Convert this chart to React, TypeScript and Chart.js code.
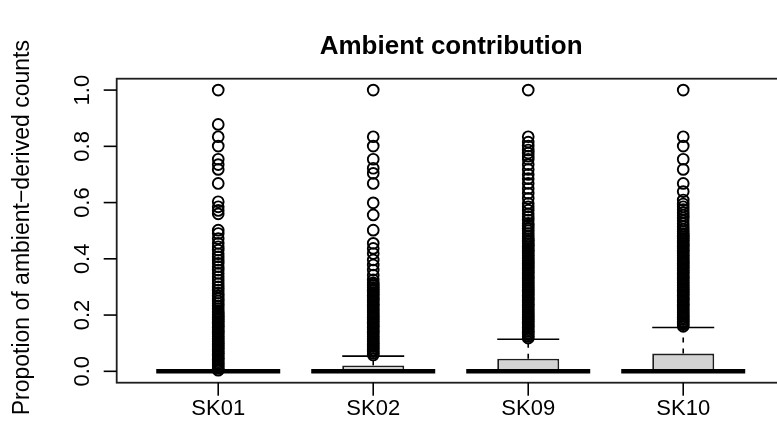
import React, { useEffect, useRef } from "react";
import { Chart, registerables } from "chart.js";

Chart.register(...registerables);

// ---------- data ----------
const categories = ["SK01", "SK02", "SK09", "SK10"];
const lowerWhisker = [0, 0, 0, 0];
const q1 = [0, 0, 0, 0];
const medians = [0, 0, 0, 0];
const q3 = [0, 0.021, 0.045, 0.063];
const upperWhisker = [0, 0.054, 0.114, 0.156];

const outliersSK01 = [
  1.0, 0.878, 0.834, 0.801, 0.754, 0.735, 0.718, 0.668, 0.603, 0.585, 0.572, 0.56, 0.502,
  0.49, 0.472, 0.455, 0.443, 0.431, 0.418, 0.407, 0.395, 0.384, 0.372, 0.36, 0.348, 0.336,
  0.324, 0.312, 0.3, 0.289, 0.278, 0.268, 0.259, 0.25, 0.241, 0.232, 0.223, 0.214,
  0.208, 0.202, 0.196, 0.19, 0.184, 0.178, 0.172, 0.166, 0.16, 0.154, 0.148, 0.142, 0.136,
  0.13, 0.124, 0.118, 0.112, 0.106, 0.1, 0.094, 0.088, 0.082, 0.076, 0.07, 0.064, 0.058,
  0.052, 0.046, 0.04, 0.034, 0.028, 0.022, 0.016, 0.01, 0.004,
];
const outliersSK02 = [
  1.0, 0.834, 0.801, 0.754, 0.722, 0.704, 0.668, 0.599, 0.556, 0.502, 0.455, 0.437, 0.419,
  0.396, 0.378, 0.36, 0.342, 0.325, 0.315,
  0.31, 0.304, 0.298, 0.292, 0.286, 0.28, 0.274, 0.268, 0.262, 0.256, 0.25, 0.244, 0.238,
  0.232, 0.226, 0.22, 0.214, 0.208, 0.202, 0.196, 0.19, 0.184, 0.178, 0.172, 0.166, 0.16,
  0.154, 0.148, 0.142, 0.136, 0.13, 0.124, 0.118, 0.112, 0.106, 0.1, 0.094, 0.088, 0.082,
  0.076, 0.07, 0.064, 0.058,
];
const outliersSK09 = [
  1.0, 0.834, 0.815, 0.801, 0.787, 0.776, 0.765, 0.754, 0.735, 0.718, 0.7, 0.685, 0.668,
  0.65, 0.633, 0.615, 0.597, 0.585, 0.573, 0.56, 0.55, 0.538, 0.526, 0.517, 0.508, 0.5,
  0.49, 0.48, 0.472,
  0.466, 0.46, 0.454, 0.448, 0.442, 0.436, 0.43, 0.424, 0.418, 0.412, 0.406, 0.4, 0.394,
  0.388, 0.382, 0.376, 0.37, 0.364, 0.358, 0.352, 0.346, 0.34, 0.334, 0.328, 0.322, 0.316,
  0.31, 0.304, 0.298, 0.292, 0.286, 0.28, 0.274, 0.268, 0.262, 0.256, 0.25, 0.244, 0.238,
  0.232, 0.226, 0.22, 0.214, 0.208, 0.202, 0.196, 0.19, 0.184, 0.178, 0.172, 0.166, 0.16,
  0.154, 0.148, 0.142, 0.136, 0.13, 0.124, 0.118,
];
const outliersSK10 = [
  1.0, 0.834, 0.801, 0.754, 0.718, 0.668, 0.639, 0.609, 0.595, 0.585, 0.575, 0.565, 0.555,
  0.545, 0.535, 0.525, 0.515, 0.505, 0.497,
  0.49, 0.484, 0.478, 0.472, 0.466, 0.46, 0.454, 0.448, 0.442, 0.436, 0.43, 0.424, 0.418,
  0.412, 0.406, 0.4, 0.394, 0.388, 0.382, 0.376, 0.37, 0.364, 0.358, 0.352, 0.346, 0.34,
  0.334, 0.328, 0.322, 0.316, 0.31, 0.304, 0.298, 0.292, 0.286, 0.28, 0.274, 0.268, 0.262,
  0.256, 0.25, 0.244, 0.238, 0.232, 0.226, 0.22, 0.214, 0.208, 0.202, 0.196, 0.19, 0.184,
  0.178, 0.172, 0.166, 0.16,
];
const outliers = [outliersSK01, outliersSK02, outliersSK09, outliersSK10];

const yTicks = [0, 0.2, 0.4, 0.6, 0.8, 1.0];
const yTickLabels = ["0.0", "0.2", "0.4", "0.6", "0.8", "1.0"];
const chartTitle = "Ambient contribution";
const yAxisTitle = "Propotion of ambient\u2212derived counts";

// ---------- styling / layout ----------
const WIDTH = 777;
const HEIGHT = 436;
const FONT = '"Liberation Sans", Arial, Helvetica, sans-serif';
const INK = "#000000";
const FRAME = "#1e1e1e";
const BOX_FILL = "#d3d3d3";
const TICK_LEN = 13;

const rBoxplotPlugin = {
  id: "rBoxplot",
  beforeDatasetsDraw(chart: any) {
    const { ctx, scales } = chart;
    const xs = scales.x;
    const ys = scales.y;
    ctx.save();
    ctx.strokeStyle = INK;
    ctx.lineWidth = 1.6;
    categories.forEach((_, i) => {
      const cx = xs.getPixelForValue(i + 1);
      ctx.setLineDash([5, 6]);
      ctx.beginPath();
      ctx.moveTo(cx, ys.getPixelForValue(q3[i]));
      ctx.lineTo(cx, ys.getPixelForValue(upperWhisker[i]));
      ctx.moveTo(cx, ys.getPixelForValue(q1[i]));
      ctx.lineTo(cx, ys.getPixelForValue(lowerWhisker[i]));
      ctx.stroke();
      ctx.setLineDash([]);
      const hl = xs.getPixelForValue(i + 1 - 0.2);
      const hr = xs.getPixelForValue(i + 1 + 0.2);
      ctx.beginPath();
      const yu = ys.getPixelForValue(upperWhisker[i]);
      const yl = ys.getPixelForValue(lowerWhisker[i]);
      ctx.moveTo(hl, yu);
      ctx.lineTo(hr, yu);
      ctx.moveTo(hl, yl);
      ctx.lineTo(hr, yl);
      ctx.stroke();
    });
    ctx.restore();
  },
  afterDatasetDraw(chart: any, args: any) {
    if (args.index !== 0) return;
    const { ctx, scales } = chart;
    const xs = scales.x;
    const ys = scales.y;
    ctx.save();
    ctx.strokeStyle = INK;
    ctx.lineWidth = 4.5;
    ctx.lineCap = "butt";
    categories.forEach((_, i) => {
      const l = xs.getPixelForValue(i + 1 - 0.4);
      const r = xs.getPixelForValue(i + 1 + 0.4);
      const y = ys.getPixelForValue(medians[i]);
      ctx.beginPath();
      ctx.moveTo(l, y);
      ctx.lineTo(r, y);
      ctx.stroke();
    });
    ctx.restore();
  },
  afterDraw(chart: any) {
    const { ctx, scales, chartArea } = chart;
    const xs = scales.x;
    const ys = scales.y;
    const { left, top, bottom } = chartArea;
    const fullRight = xs.getPixelForValue(4.66);
    ctx.save();
    // plot frame (its right side lies just past the picture's edge)
    ctx.strokeStyle = FRAME;
    ctx.lineWidth = 1.8;
    ctx.strokeRect(left, top, fullRight - left, bottom - top);

    ctx.strokeStyle = INK;
    ctx.lineWidth = 1.6;
    ctx.fillStyle = INK;
    ctx.font = `22px ${FONT}`;
    yTicks.forEach((v, i) => {
      const y = ys.getPixelForValue(v);
      ctx.beginPath();
      ctx.moveTo(left, y);
      ctx.lineTo(left - TICK_LEN, y);
      ctx.stroke();
      ctx.save();
      ctx.translate(left - 34, y);
      ctx.rotate(-Math.PI / 2);
      ctx.textAlign = "center";
      ctx.textBaseline = "middle";
      ctx.fillText(yTickLabels[i], 0, 0);
      ctx.restore();
    });

    categories.forEach((c, i) => {
      const x = xs.getPixelForValue(i + 1);
      ctx.beginPath();
      ctx.moveTo(x, bottom);
      ctx.lineTo(x, bottom + TICK_LEN);
      ctx.stroke();
      ctx.textAlign = "center";
      ctx.textBaseline = "middle";
      ctx.fillText(c, x, bottom + 26);
    });

    ctx.save();
    ctx.font = `23px ${FONT}`;
    ctx.translate(23, (top + bottom) / 2 - 3);
    ctx.rotate(-Math.PI / 2);
    ctx.textAlign = "center";
    ctx.textBaseline = "middle";
    ctx.fillText(yAxisTitle, 0, 0);
    ctx.restore();

    ctx.font = `bold 26px ${FONT}`;
    ctx.textAlign = "center";
    ctx.textBaseline = "middle";
    ctx.fillText(chartTitle, (left + fullRight) / 2, 47);
    ctx.restore();
  },
};

export default function App() {
  const canvasRef = useRef<HTMLCanvasElement | null>(null);

  useEffect(() => {
    if (!canvasRef.current) return;
    const outlierPoints: { x: number; y: number }[] = [];
    outliers.forEach((arr, i) => arr.forEach((v) => outlierPoints.push({ x: i + 1, y: v })));

    const chart = new Chart(canvasRef.current, {
      type: "bar",
      data: {
        datasets: [
          {
            type: "bar",
            data: categories.map((_, i) => ({ x: i + 1, y: [q1[i], q3[i]] })) as any,
            backgroundColor: BOX_FILL,
            borderColor: FRAME,
            borderWidth: 1.8,
            borderSkipped: false,
            barPercentage: 0.8,
            categoryPercentage: 1,
          } as any,
          {
            type: "scatter",
            data: outlierPoints as any,
            pointStyle: "circle",
            pointRadius: 5.4,
            pointBorderWidth: 1.9,
            pointBackgroundColor: "rgba(0,0,0,0)",
            pointBorderColor: INK,
            showLine: false,
          } as any,
        ],
      },
      options: {
        animation: false,
        responsive: false,
        maintainAspectRatio: false,
        devicePixelRatio: 1,
        layout: { autoPadding: false, padding: { left: 116.7, top: 78.7, right: 0, bottom: 53.3 } },
        plugins: {
          legend: { display: false },
          tooltip: { enabled: false },
          title: { display: false },
        },
        scales: {
          x: { type: "linear", min: 0.345, max: 4.605, offset: false, display: false, grid: { display: false } },
          y: { type: "linear", min: -0.0405, max: 1.0405, display: false, grid: { display: false } },
        },
      } as any,
      plugins: [rBoxplotPlugin],
    });
    return () => chart.destroy();
  }, []);

  return (
    <div style={{ position: "absolute", left: 0, top: 0, width: WIDTH, height: HEIGHT, background: "#fff", overflow: "hidden" }}>
      <canvas ref={canvasRef} width={WIDTH} height={HEIGHT} style={{ width: WIDTH, height: HEIGHT, display: "block" }} />
    </div>
  );
}
